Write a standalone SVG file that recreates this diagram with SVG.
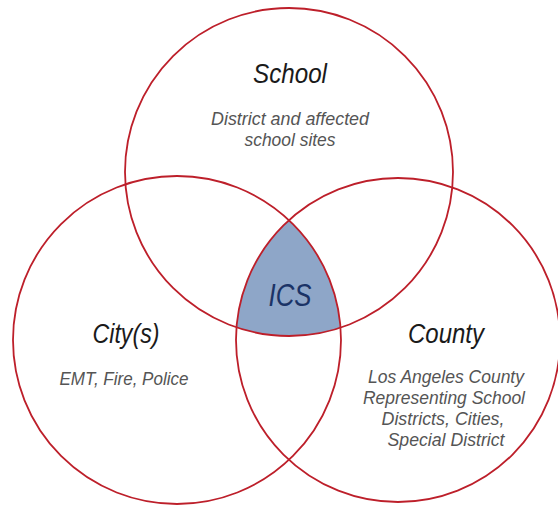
<svg xmlns="http://www.w3.org/2000/svg" width="558" height="506" viewBox="0 0 558 506">
  <style>
    .ring { fill: none; stroke: #bd1f2a; stroke-width: 1.8; }
    .title { font-family: "Liberation Sans", Arial, sans-serif; font-style: italic; font-size: 27px; fill: #1a1a1a; text-anchor: middle; }
    .sub { font-family: "Liberation Sans", Arial, sans-serif; font-style: italic; font-size: 18.5px; fill: #555555; text-anchor: middle; }
    .ics { font-family: "Liberation Sans", Arial, sans-serif; font-style: italic; font-size: 31px; fill: #1b3366; text-anchor: middle; }
  </style>
  <rect width="558" height="506" fill="#ffffff"/>
  <g id="ics">
    <path d="M289,220.2 A162,162 0 0 0 236.5,327.4 A164,164 0 0 0 340.5,327.7 A164,164 0 0 0 289,220.2 Z" fill="#8ea6c8"/>
    <text class="ics" x="290" y="306" textLength="43" lengthAdjust="spacingAndGlyphs">ICS</text>
  </g>
  <g id="school">
    <circle class="ring" cx="289" cy="172" r="164"/>
    <text class="title" x="290" y="83" textLength="74" lengthAdjust="spacingAndGlyphs">School</text>
    <text class="sub" x="290" y="125" textLength="158" lengthAdjust="spacingAndGlyphs">District and affected</text>
    <text class="sub" x="290" y="146" textLength="91" lengthAdjust="spacingAndGlyphs">school sites</text>
  </g>
  <g id="city">
    <circle class="ring" cx="177" cy="340" r="164"/>
    <text class="title" x="126" y="343" textLength="67" lengthAdjust="spacingAndGlyphs">City(s)</text>
    <text class="sub" x="124" y="385" textLength="129" lengthAdjust="spacingAndGlyphs">EMT, Fire, Police</text>
  </g>
  <g id="county">
    <circle class="ring" cx="398" cy="340" r="162"/>
    <text class="title" x="446" y="343" textLength="76" lengthAdjust="spacingAndGlyphs">County</text>
    <text class="sub" x="446" y="383" textLength="156" lengthAdjust="spacingAndGlyphs">Los Angeles County</text>
    <text class="sub" x="444" y="404" textLength="162" lengthAdjust="spacingAndGlyphs">Representing School</text>
    <text class="sub" x="443" y="425" textLength="123" lengthAdjust="spacingAndGlyphs">Districts, Cities,</text>
    <text class="sub" x="446" y="446" textLength="117" lengthAdjust="spacingAndGlyphs">Special District</text>
  </g>
</svg>
